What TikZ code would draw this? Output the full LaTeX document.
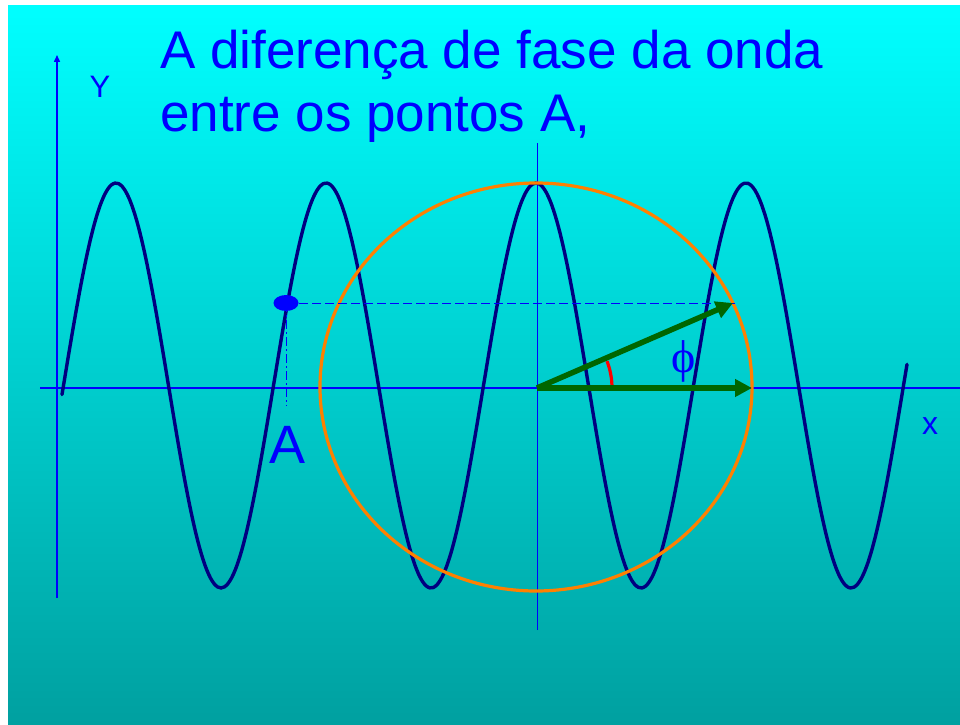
\documentclass[tikz,border=0pt]{standalone}
\usepackage{fontspec}
\setmainfont{Liberation Sans}
\newfontfamily\phifont{Liberation Serif}
\usepackage{xcolor}
\usetikzlibrary{arrows.meta}
\definecolor{bgtop}{RGB}{0,255,255}
\definecolor{bgbot}{RGB}{0,160,160}
\definecolor{wavenavy}{RGB}{0,0,128}
\definecolor{phasorgreen}{RGB}{0,102,0}
\definecolor{circorange}{RGB}{255,128,0}

\begin{document}
\begin{tikzpicture}[x=1pt, y=1pt,
    axis/.style={blue, line width=1.5pt},
    guide/.style={blue, line width=1pt, dash pattern=on 9pt off 4pt},
    phasor/.style={phasorgreen, line width=5.5pt, -{Triangle[length=17pt, width=17pt]}},
    lbl/.style={blue, inner sep=0pt, anchor=base}]
  % wave y = \wvC + \wvA cos(2pi (x - \wvP)/\wvL); one page unit is one pixel
  \def\wvC{338.5} \def\wvA{202.5} \def\wvP{116} \def\wvL{210}

  \useasboundingbox (0,0) rectangle (960,724);
  \fill[white] (0,0) rectangle (960,724);
  \shade[top color=bgtop, bottom color=bgbot] (8,0) rectangle (960,718);

  % points
  \coordinate (O)  at (537,336);
  \coordinate (H)  at (752,336);
  \coordinate (P)  at (733,421);
  \coordinate (A)  at (286,421);
  \coordinate (Af) at (286,318);
  \coordinate (Pd) at (735,421);

  % axes
  \draw[axis, -{Triangle[length=7pt, width=6pt]}] (57,126) -- (57,669);
  \draw[axis] (40,336) -- (960,336);
  \draw[blue, line width=1pt] (537,94) -- (537,581);

  % the wave
  \draw[wavenavy, line width=3.4pt, line cap=round]
    plot[domain=62:907, samples=240, smooth]
    (\x, {\wvC + \wvA*cos(((\x-\wvP)/\wvL)*360)});

  % reference circle
  \draw[circorange, line width=3.2pt] (536,337) ellipse (216 and 204);

  % projection of point A
  \draw[guide] (A) -- (Pd);
  \draw[guide, dash pattern=on 9pt off 3pt on 2pt off 3pt] (A) -- (Af);
  \fill[blue] (A) ellipse (12.5 and 8);

  % phasors and the angle between them
  \draw[red, line width=3.2pt] (612,336) arc (0:21:75);
  \draw[phasor] (O) -- (H);
  \draw[phasor] (O) -- (P);

  % labels
  \node[lbl, anchor=base west, font=\fontsize{53}{64}\selectfont] (tit1) at (160,655)
    {A diferença de fase da onda};
  \node[lbl, anchor=base west, font=\fontsize{53}{64}\selectfont] (tit2) at (160,592)
    {entre os pontos A,};
  \node[lbl, font=\fontsize{31}{36}\selectfont] (ylab) at (100,626) {Y};
  \node[lbl, font=\fontsize{32}{36}\selectfont] (xlab) at (930,290) {x};
  \node[lbl, font=\fontsize{54}{60}\selectfont] (Alab) at (288,261) {A};
  \node[blue, inner sep=0pt, font=\phifont\fontsize{46}{50}\selectfont] (phil) at (684,363) {ϕ};
\end{tikzpicture}
\end{document}
